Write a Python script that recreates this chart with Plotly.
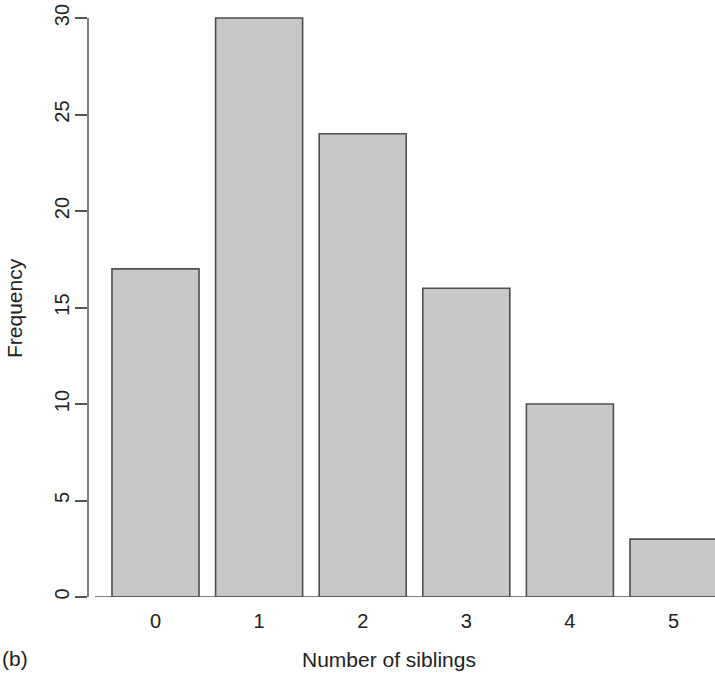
import plotly.graph_objects as go

siblings = ["0", "1", "2", "3", "4", "5"]
positions = [0, 1, 2, 3, 4, 5]
frequency = [17, 30, 24, 16, 10, 3]
y_ticks = [0, 5, 10, 15, 20, 25, 30]

FONT = "Liberation Sans, Arial, sans-serif"
TXT = "#222222"
AX = "#555555"

W, H = 715, 674
PLOT_LEFT, PLOT_BOTTOM, PLOT_TOP30 = 88, 597, 18   # page pixels of the reference
ML = PLOT_LEFT
MR = 0
MT = 10
MB = H - PLOT_BOTTOM
plot_h = H - MT - MB
plot_w = W - ML - MR
y_top = 30 * plot_h / (PLOT_BOTTOM - PLOT_TOP30)
pitch = 103.6
x0 = -(155.5 - PLOT_LEFT) / pitch
x1 = x0 + plot_w / pitch


def px(xp):
    return (xp - PLOT_LEFT) / plot_w


def py(yp):
    return (PLOT_BOTTOM - yp) / plot_h


fig = go.Figure()
fig.add_trace(go.Bar(
    x=positions, y=frequency, width=0.84,
    marker=dict(color="#c7c8ca", line=dict(color="#4f4f4f", width=1.6)),
    showlegend=False, hoverinfo="skip",
))

fig.update_layout(
    width=W, height=H,
    margin=dict(l=ML, r=MR, t=MT, b=MB),
    paper_bgcolor="white", plot_bgcolor="white",
    font=dict(family=FONT, size=20, color=TXT),
    xaxis=dict(range=[x0, x1], tickvals=positions, ticktext=siblings,
               showgrid=False, zeroline=False, showline=False, ticks="",
               ticklabelstandoff=10, ticklabeloverflow="allow",
               tickfont=dict(size=20, color=TXT)),
    yaxis=dict(range=[0, y_top], tickvals=y_ticks, showgrid=False,
               zeroline=False, showline=False, ticks="outside", ticklen=12,
               tickwidth=1.5, tickcolor=AX, tickangle=-90,
               ticklabeloverflow="allow", ticklabelstandoff=-2,
               tickfont=dict(size=20, color=TXT)),
    shapes=[
        dict(type="line", xref="paper", yref="y", x0=0, x1=0, y0=0, y1=30,
             line=dict(color=AX, width=1.5)),
        dict(type="line", xref="x", yref="y", x0=x0 + 7 / pitch, x1=x1, y0=0, y1=0,
             line=dict(color=AX, width=1.5)),
    ],
    annotations=[
        dict(text="Number of siblings", xref="paper", yref="paper",
             x=px(389), y=py(659),
             showarrow=False, xanchor="center", yanchor="middle",
             font=dict(size=21, color=TXT)),
        dict(text="Frequency", xref="paper", yref="paper",
             x=px(15), y=py(308), textangle=-90,
             showarrow=False, xanchor="center", yanchor="middle",
             font=dict(size=21, color=TXT)),
        dict(text="(b)", xref="paper", yref="paper",
             x=px(15), y=py(658),
             showarrow=False, xanchor="center", yanchor="middle",
             font=dict(size=21, color=TXT)),
    ],
)

fig.write_html("out.html", config={"displayModeBar": False},
               post_script="document.body.style.margin='0px';")
